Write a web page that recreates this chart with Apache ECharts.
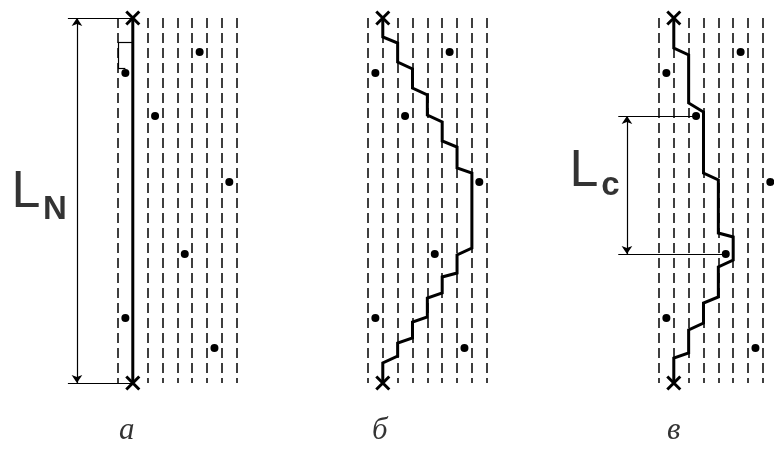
<!DOCTYPE html>
<html>
<head>
<meta charset="utf-8">
<script src="https://cdn.jsdelivr.net/npm/echarts@6/dist/echarts.min.js"></script>
<style>
  html, body { margin: 0; padding: 0; background: #fff; }
  #main { width: 774px; height: 456px; }
</style>
</head>
<body>
<div id="main"></div>
<script>
// колонки (штриховые линии) и длина колонки
var columns = [0, 1, 2, 3, 4, 5, 6, 7, 8]
var colLength = 365

// точки (номер колонки + 0.5, глубина)
var dotCol = [5.5, 0.5, 2.5, 7.5, 4.5, 0.5, 6.5]
var dotDepth = [34, 55, 98, 164, 236, 300, 330]

// ломаная б
var pathBCol = [1, 1, 2, 2, 3, 3, 4, 4, 5, 5, 6, 6, 7, 7, 6, 6, 5, 5, 4, 4, 3, 3, 2, 2, 1, 1]
var pathBDepth = [0, 19, 25, 44, 51, 70, 77, 97, 104, 123, 129, 150, 155, 230, 237, 255, 259, 275, 280, 299, 304, 320, 325, 338, 345, 365]

// ломаная в
var pathCCol = [1, 1, 2, 2, 3, 3, 4, 4, 5, 5, 4, 4, 3, 3, 2, 2, 1, 1]
var pathCDepth = [0, 30, 37, 85, 94, 155, 162, 215, 219, 242, 249, 279, 285, 305, 312, 335, 340, 365]

var panelLabels = ['а', 'б', 'в']

var grids = [14, 264, 555].map(function (left) {
  return { left: left, top: 18, width: 216.8, height: colLength }
})

var xAxes = [], yAxes = [], series = []

function pts(cols, depths) {
  return cols.map(function (c, i) { return [c, depths[i]] })
}

var crossPath = 'path://M0,0L10,10M10,0L0,10'
var sansFont = 'Liberation Sans, Arial, sans-serif'

grids.forEach(function (g, gi) {
  xAxes.push({ gridIndex: gi, type: 'value', min: -7, max: 7.6, show: false })
  yAxes.push({ gridIndex: gi, type: 'value', min: 0, max: colLength, inverse: true, show: false })
  var ax = { xAxisIndex: gi, yAxisIndex: gi }

  // штриховые колонки
  series.push(Object.assign({
    type: 'lines', coordinateSystem: 'cartesian2d', silent: true, z: 1, clip: false,
    lineStyle: { color: '#000', width: 1.5, type: [10, 5], opacity: 1 },
    data: columns.map(function (c) { return { coords: [[c, 0], [c, colLength]] } })
  }, ax))

  // путь
  var path
  if (gi === 0) path = [[1, 0], [1, colLength]]
  else if (gi === 1) path = pts(pathBCol, pathBDepth)
  else path = pts(pathCCol, pathCDepth)
  series.push(Object.assign({
    type: 'lines', coordinateSystem: 'cartesian2d', polyline: true, silent: true, z: 3, clip: false,
    lineStyle: { color: '#000', width: 3, opacity: 1, join: 'miter' },
    data: [{ coords: path }]
  }, ax))

  // точки
  series.push(Object.assign({
    type: 'scatter', symbolSize: 8, z: 4, silent: true, clip: false,
    itemStyle: { color: '#000', opacity: 1 },
    data: pts(dotCol, dotDepth)
  }, ax))

  // крестики
  series.push(Object.assign({
    type: 'scatter', symbol: crossPath, symbolSize: 13, z: 5, silent: true, clip: false,
    itemStyle: { color: 'none', borderColor: '#000', borderWidth: 3, opacity: 1 },
    data: [[1, 0], [1, colLength]]
  }, ax))

  // подпись панели
  series.push(Object.assign({
    type: 'scatter', symbolSize: 0, clip: false, silent: true,
    label: {
      show: true, position: 'inside', formatter: panelLabels[gi],
      fontFamily: 'Liberation Serif', fontStyle: 'italic', fontSize: 31, color: '#000'
    },
    data: [[gi === 0 ? 0.6 : (gi === 1 ? 0.8 : 1.0), 413]]
  }, ax))
})

// размер L_N (панель а)
series.push({
  type: 'lines', coordinateSystem: 'cartesian2d', xAxisIndex: 0, yAxisIndex: 0, silent: true, z: 2, clip: false,
  lineStyle: { color: '#000', width: 1.2, opacity: 1 },
  data: [
    { coords: [[-3.37, 0], [1, 0]] },
    { coords: [[-3.37, colLength], [1, colLength]] },
    { coords: [[0, 24], [1, 24]] },
    { coords: [[0, 24], [0, 50]] },
    { coords: [[0, 50], [0.5, 50]] }
  ]
})
series.push({
  type: 'lines', coordinateSystem: 'cartesian2d', xAxisIndex: 0, yAxisIndex: 0, silent: true, z: 2, clip: false,
  symbol: ['arrow', 'arrow'], symbolSize: 8,
  lineStyle: { color: '#000', width: 1.2, opacity: 1 },
  data: [{ coords: [[-2.76, 0], [-2.76, colLength]] }]
})

// размер L_c (панель в)
series.push({
  type: 'lines', coordinateSystem: 'cartesian2d', xAxisIndex: 2, yAxisIndex: 2, silent: true, z: 2, clip: false,
  lineStyle: { color: '#000', width: 1.2, opacity: 1 },
  data: [
    { coords: [[-2.74, dotDepth[2]], [dotCol[2], dotDepth[2]]] },
    { coords: [[-2.74, dotDepth[4]], [dotCol[4], dotDepth[4]]] }
  ]
})
series.push({
  type: 'lines', coordinateSystem: 'cartesian2d', xAxisIndex: 2, yAxisIndex: 2, silent: true, z: 2, clip: false,
  symbol: ['arrow', 'arrow'], symbolSize: 8,
  lineStyle: { color: '#000', width: 1.2, opacity: 1 },
  data: [{ coords: [[-2.155, dotDepth[2]], [-2.155, dotDepth[4]]] }]
})

// буквенные обозначения
function textItem(x, y, txt, size, weight) {
  return {
    value: [x, y],
    label: {
      show: true, position: 'inside', formatter: txt,
      fontFamily: sansFont, fontSize: size, fontWeight: weight, color: '#000'
    }
  }
}
series.push({
  type: 'scatter', symbolSize: 0, clip: false, silent: true, xAxisIndex: 0, yAxisIndex: 0,
  data: [textItem(-6.2, 175, 'L', 52, 'normal'), textItem(-4.24, 192, 'N', 33, 'bold')]
})
series.push({
  type: 'scatter', symbolSize: 0, clip: false, silent: true, xAxisIndex: 2, yAxisIndex: 2,
  data: [textItem(-5.05, 153.5, 'L', 52, 'normal'), textItem(-3.27, 167.5, 'c', 33, 'bold')]
})

var myChart = echarts.init(document.getElementById('main'))
myChart.setOption({
  animation: false,
  backgroundColor: '#fff',
  grid: grids,
  xAxis: xAxes,
  yAxis: yAxes,
  series: series
})
</script>
</body>
</html>
